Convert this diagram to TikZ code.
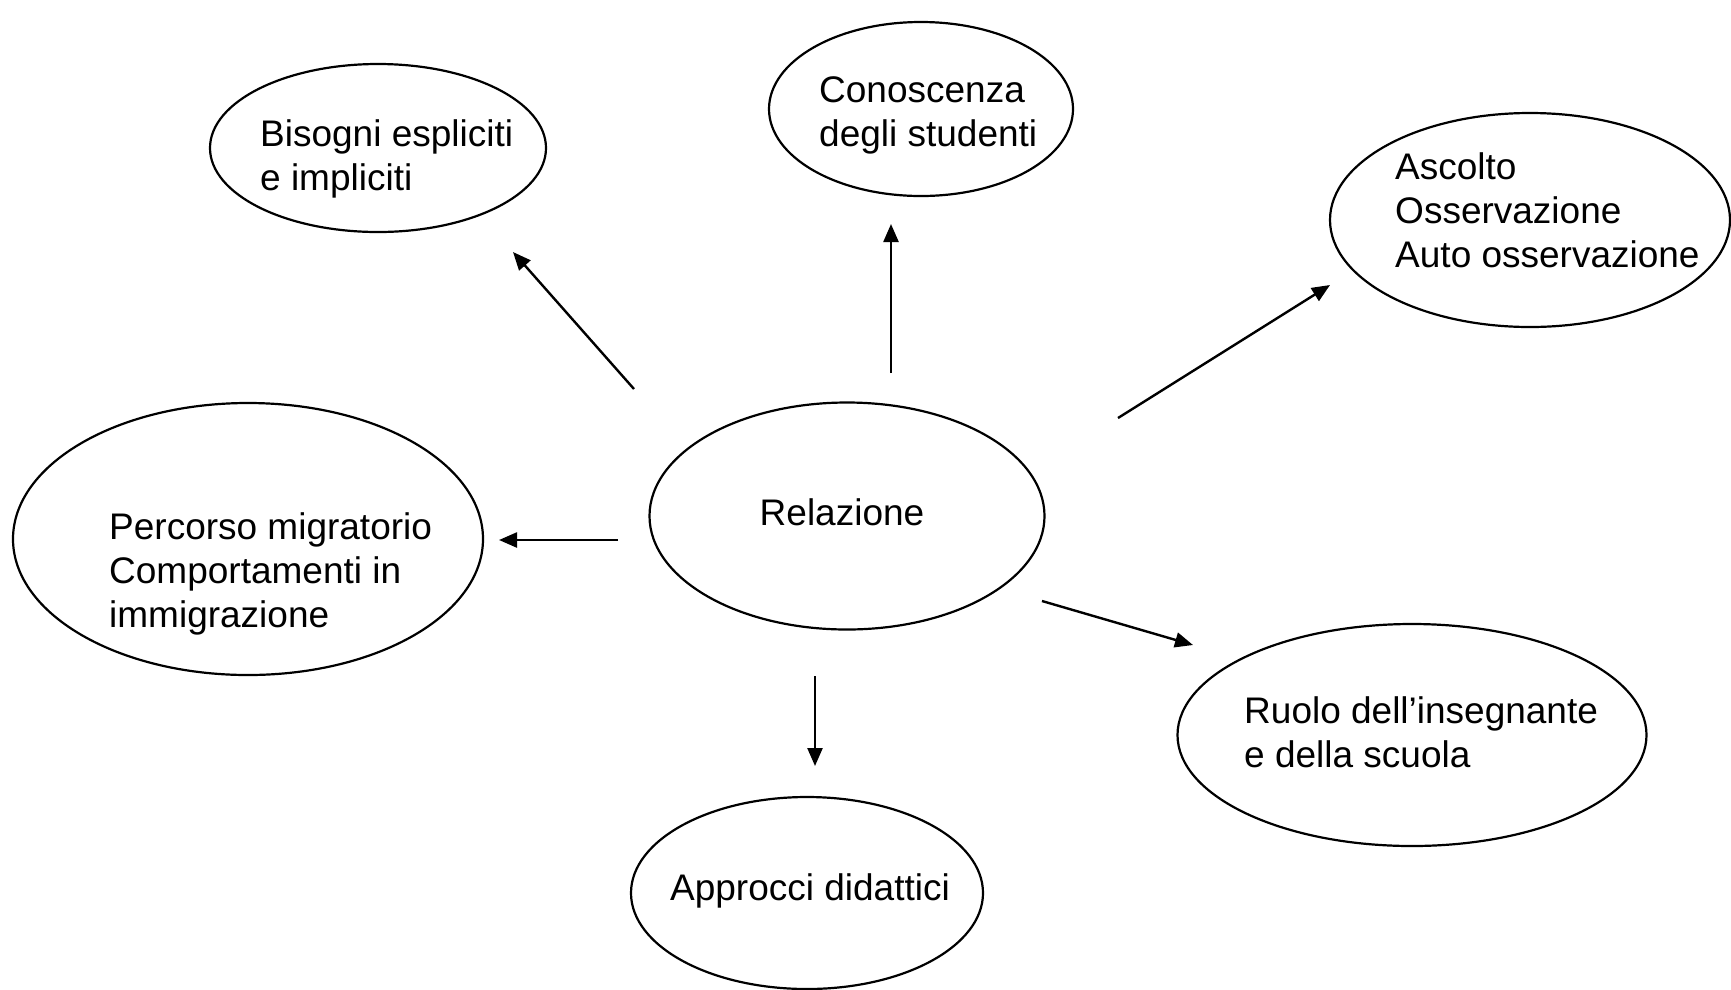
\documentclass[tikz,border=0pt]{standalone}
\usepackage{fontspec}
\setmainfont{Liberation Sans}
\usetikzlibrary{shapes.geometric,arrows.meta}
\begin{document}
\begin{tikzpicture}[x=1pt,y=-1pt,
  bubble/.style={draw=black,ellipse,line width=2.2pt,inner sep=0pt},
  txt/.style={align=left,anchor=west,inner sep=0pt,font=\fontsize{37}{44}\selectfont},
  conn/.style={line width=2.4pt,-{Triangle[length=18pt,width=15pt]}}]
\useasboundingbox (0,0) rectangle (1731,989);
% ellipses
\node[bubble,minimum width=336pt,minimum height=168pt] (bis) at (378,148) {};
\node[bubble,minimum width=304pt,minimum height=174pt] (con) at (921,109) {};
\node[bubble,minimum width=400pt,minimum height=214pt] (asc) at (1530,220) {};
\node[bubble,minimum width=395pt,minimum height=227pt] (rel) at (847,516) {};
\node[bubble,minimum width=470pt,minimum height=272pt] (per) at (248,539) {};
\node[bubble,minimum width=469pt,minimum height=222pt] (ruo) at (1412,735) {};
\node[bubble,minimum width=352pt,minimum height=192pt] (app) at (807,893) {};
% texts
\node[txt] (tbis) at (260,159) {Bisogni espliciti\\e impliciti};
\node[txt] (tcon) at (819,115) {Conoscenza\\degli studenti};
\node[txt] (tasc) at (1395,210) {Ascolto\\Osservazione\\Auto osservazione};
\node[txt,anchor=center] (trel) at (842,512) {Relazione};
\node[txt] (tper) at (109,574) {Percorso migratorio\\Comportamenti in\\immigrazione};
\node[txt] (truo) at (1244,732) {Ruolo dell’insegnante\\e della scuola};
\node[txt,anchor=center] (tapp) at (810,891) {Approcci didattici};
% connector end points
\coordinate (a1s) at (634,389); \coordinate (a1e) at (513,252);
\coordinate (a2s) at (891,373); \coordinate (a2e) at (891,224);
\coordinate (a3s) at (1118,418); \coordinate (a3e) at (1330,285);
\coordinate (a4s) at (618,540); \coordinate (a4e) at (499,540);
\coordinate (a5s) at (1042,601); \coordinate (a5e) at (1193,645);
\coordinate (a6s) at (815,676); \coordinate (a6e) at (815,766);
\draw[conn] (a1s) -- (a1e);
\draw[conn] (a2s) -- (a2e);
\draw[conn] (a3s) -- (a3e);
\draw[conn] (a4s) -- (a4e);
\draw[conn] (a5s) -- (a5e);
\draw[conn] (a6s) -- (a6e);
\end{tikzpicture}
\end{document}
